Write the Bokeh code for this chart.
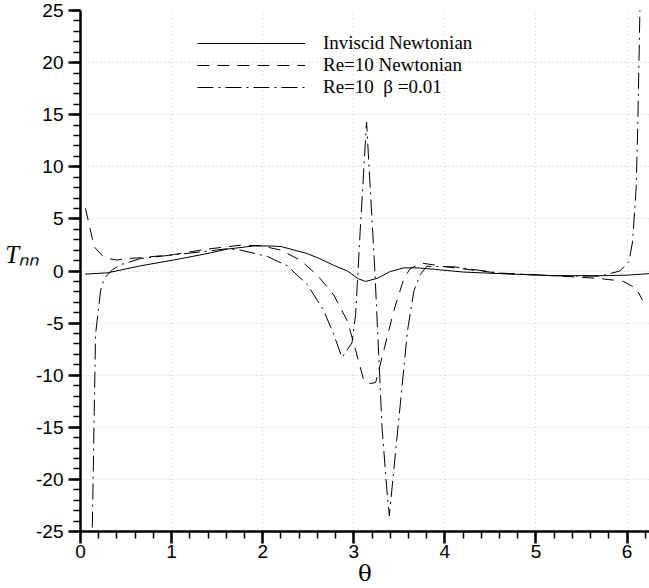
from bokeh.plotting import figure
from bokeh.models import Range1d, Legend, LegendItem, SingleIntervalTicker, PrintfTickFormatter
from bokeh.embed import file_html
from bokeh.resources import INLINE

# Inviscid Newtonian
theta_inv = [0.05, 0.3, 0.66, 1.02, 1.39, 1.61, 1.9, 2.1, 2.2, 2.49, 2.62, 2.78, 2.93, 3.05, 3.13,
             3.26, 3.4, 3.55, 3.7, 3.9, 4.2, 4.46, 5.19, 5.74, 6.0, 6.25]
tnn_inv = [-0.3, -0.17, 0.5, 1.05, 1.67, 2.1, 2.4, 2.4, 2.35, 1.67, 1.2, 0.55, 0.0, -0.75, -1.0,
           -0.7, -0.05, 0.3, 0.3, 0.15, -0.1, -0.2, -0.45, -0.45, -0.4, -0.25]

# Re=10 Newtonian
theta_re = [0.055, 0.15, 0.26, 0.4, 0.51, 0.66, 0.88, 1.02, 1.39, 1.76, 1.98, 2.2, 2.41, 2.6, 2.78,
            2.93, 3.02, 3.11, 3.18, 3.24, 3.33, 3.44, 3.55, 3.62, 3.75, 4.02, 4.39, 4.64, 5.19,
            5.67, 5.85, 5.96, 6.1, 6.17]
tnn_re = [6.0, 2.33, 1.27, 1.05, 1.2, 1.27, 1.46, 1.57, 2.1, 2.48, 2.43, 2.0, 1.05, -0.4, -2.3,
          -4.8, -7.6, -10.5, -10.8, -10.7, -7.6, -3.8, -0.7, 0.24, 0.75, 0.4, 0.0, -0.24, -0.45,
          -0.7, -0.87, -1.0, -1.67, -2.8]

# Re=10 beta=0.01
theta_b = [0.12, 0.13, 0.165, 0.22, 0.26, 0.35, 0.44, 0.66, 1.02, 1.39, 1.61, 1.76, 2.05, 2.27,
           2.49, 2.67, 2.78, 2.87, 2.98, 3.02, 3.07, 3.14, 3.23, 3.31, 3.36, 3.39, 3.44, 3.49,
           3.59, 3.66, 3.73, 3.8, 4.1, 4.6, 5.2, 5.7, 5.92, 6.02, 6.06, 6.1, 6.12, 6.14, 6.16]
tnn_b = [-30.0, -24.5, -6.1, -1.9, -0.7, 0.12, 0.6, 1.2, 1.55, 1.9, 2.14, 2.0, 1.4, 0.5,
         -1.3, -3.8, -6.1, -8.3, -6.9, -4.2, 3.8, 14.3, 0.25, -15.0, -20.7, -23.5, -19.0, -14.6,
         -5.7, -1.9, -0.35, 0.45, 0.4, -0.2, -0.45, -0.5, 0.0, 0.9, 2.8, 8.0, 15.0, 24.7, 30.0]

series_labels = ["Inviscid Newtonian", "Re=10 Newtonian", "Re=10  \u03b2 =0.01"]
y_label = "T\u2099\u2099\n"
x_label = "\u03b8"

p = figure(width=649, height=588, x_range=Range1d(0, 6.246), y_range=Range1d(-25, 25),
           output_backend="svg", toolbar_location=None,
           min_border_left=80, min_border_right=0, min_border_top=10, min_border_bottom=53)
p.outline_line_color = None
p.background_fill_color = "white"

r1 = p.line(theta_inv, tnn_inv, line_color="black", line_width=1)
r2 = p.line(theta_re, tnn_re, line_color="black", line_width=1, line_dash="12 8")
r3 = p.line(theta_b, tnn_b, line_color="black", line_width=1, line_dash="16 5 2 5")

p.xaxis.ticker = SingleIntervalTicker(interval=1, num_minor_ticks=5)
p.yaxis.ticker = SingleIntervalTicker(interval=5, num_minor_ticks=5)

for ax in (p.xaxis[0], p.yaxis[0]):
    ax.formatter = PrintfTickFormatter(format="%d")
    ax.axis_line_width = 2.5
    ax.axis_line_color = "black"
    ax.major_tick_in = 0
    ax.major_tick_out = 12
    ax.minor_tick_in = 0
    ax.minor_tick_out = 7
    ax.major_tick_line_width = 2.5
    ax.minor_tick_line_width = 1.5
    ax.major_label_text_font = "Liberation Sans"
    ax.major_label_text_font_size = "19px"
    ax.major_label_text_color = "black"

p.xaxis.major_label_standoff = 1
p.yaxis.major_label_standoff = 5

p.xaxis.axis_label = x_label
p.xaxis.axis_label_text_font = "DejaVu Serif"
p.xaxis.axis_label_text_font_style = "normal"
p.xaxis.axis_label_text_font_size = "23px"
p.xaxis.axis_label_standoff = -1
p.xaxis.axis_label_text_color = "black"

p.yaxis.axis_label = y_label
p.yaxis.axis_label_orientation = "horizontal"
p.yaxis.axis_label_text_font = "Liberation Serif"
p.yaxis.axis_label_text_font_style = "italic"
p.yaxis.axis_label_text_font_size = "25px"
p.yaxis.axis_label_standoff = -6
p.yaxis.axis_label_text_color = "black"

p.xgrid.grid_line_color = "#c8c8c8"
p.ygrid.grid_line_color = "#c8c8c8"
p.xgrid.grid_line_dash = "1 3"
p.ygrid.grid_line_dash = "1 3"

legend = Legend(items=[LegendItem(label=series_labels[0], renderers=[r1]),
                       LegendItem(label=series_labels[1], renderers=[r2]),
                       LegendItem(label=series_labels[2], renderers=[r3])],
                location=(117, 433))
legend.background_fill_alpha = 0
legend.border_line_color = None
legend.padding = 0
legend.margin = 0
legend.spacing = 0
legend.glyph_width = 108
legend.glyph_height = 20
legend.label_height = 20
legend.label_standoff = 18
legend.label_text_font = "Liberation Serif"
legend.label_text_font_size = "19px"
legend.label_text_color = "black"
p.add_layout(legend)

open("out.html", "w").write(file_html(p, INLINE))
